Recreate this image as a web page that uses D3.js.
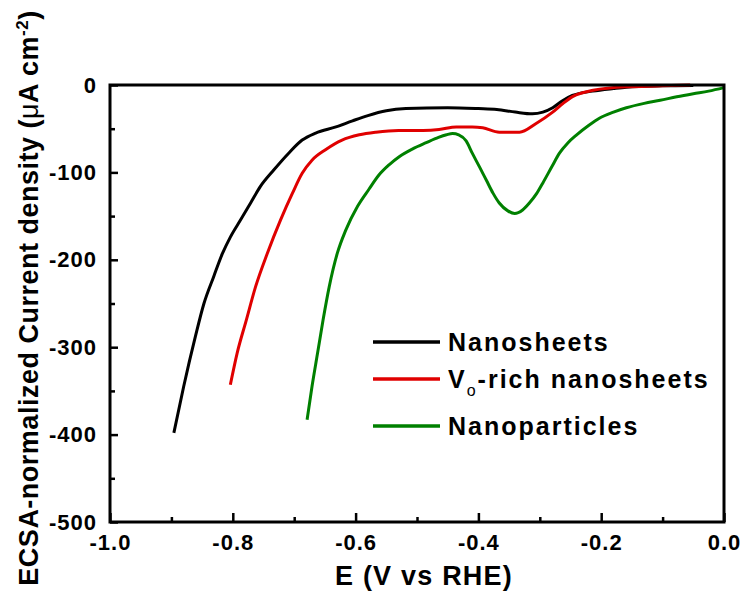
<!DOCTYPE html>
<html>
<head>
<meta charset="utf-8">
<style>
  body { margin: 0; background: #fff; }
  svg text { font-family: "Liberation Sans", Arial, sans-serif; font-weight: bold; fill: #000; }
</style>
</head>
<body>
<div id="chart"></div>
<script src="https://cdn.jsdelivr.net/npm/d3@7"></script>
<script>
'use strict';

// E (V vs RHE), current density (uA cm-2)
var nanosheets = [
  [-0.896,-398],[-0.880,-345],[-0.861,-288],[-0.847,-250],[-0.831,-219],[-0.817,-193],
  [-0.804,-174],[-0.787,-154],[-0.771,-135],[-0.755,-116],[-0.733,-97],[-0.709,-78],
  [-0.687,-63],[-0.665,-55],[-0.632,-48],[-0.605,-41],[-0.580,-35],[-0.550,-29.5],
  [-0.518,-27],[-0.450,-26],[-0.400,-27],[-0.370,-28],[-0.340,-31],[-0.312,-33],
  [-0.295,-31],[-0.279,-26],[-0.263,-18],[-0.247,-12],[-0.214,-7],[-0.180,-4],
  [-0.159,-2.5],[-0.100,-1],[-0.050,-0.5]
];
var voRich = [
  [-0.804,-343],[-0.793,-307],[-0.778,-269],[-0.763,-231],[-0.744,-193],[-0.722,-154],
  [-0.703,-124],[-0.687,-101],[-0.671,-86],[-0.649,-74],[-0.622,-63],[-0.594,-57],
  [-0.567,-54],[-0.530,-52],[-0.490,-52],[-0.464,-51],[-0.436,-48],[-0.410,-48],
  [-0.393,-49],[-0.366,-54],[-0.333,-54],[-0.306,-44],[-0.279,-31],[-0.262,-21],
  [-0.246,-13],[-0.213,-6],[-0.159,-2],[-0.100,-1],[-0.055,0]
];
var nanoparticles = [
  [-0.679,-383],[-0.671,-345],[-0.662,-307],[-0.653,-269],[-0.643,-231],[-0.630,-193],
  [-0.616,-166],[-0.597,-139],[-0.578,-119],[-0.562,-103],[-0.545,-91],[-0.529,-82],
  [-0.507,-73],[-0.485,-66],[-0.465,-60],[-0.452,-57],[-0.442,-55.5],[-0.432,-57],
  [-0.420,-64],[-0.410,-78],[-0.398,-94],[-0.387,-109],[-0.376,-124],[-0.366,-135],
  [-0.352,-144],[-0.341,-147],[-0.328,-143],[-0.317,-135],[-0.305,-124],[-0.295,-112],
  [-0.280,-93],[-0.268,-78],[-0.254,-66],[-0.240,-57],[-0.220,-46],[-0.203,-38],
  [-0.180,-31],[-0.159,-26],[-0.130,-21],[-0.104,-17.5],[-0.077,-13.5],[-0.050,-10],
  [-0.025,-7],[0,-3]
];

var xTicks = [-1.0, -0.8, -0.6, -0.4, -0.2, 0.0];
var xMinor = [-0.9, -0.7, -0.5, -0.3, -0.1];
var yTicks = [0, -100, -200, -300, -400, -500];
var yMinor = [-50, -150, -250, -350, -450];

var series = [
  {name: 'Nanosheets', data: nanosheets, color: '#000000'},
  {name: 'Vo-rich nanosheets', data: voRich, color: '#e00000'},
  {name: 'Nanoparticles', data: nanoparticles, color: '#008000'}
];

var W = 746, H = 597;
var m = {top: 85, right: 22, bottom: 75, left: 110};
var w = W - m.left - m.right, h = H - m.top - m.bottom;

var svg = d3.select('#chart').append('svg')
  .attr('width', W).attr('height', H);

var g = svg.append('g').attr('transform', 'translate(' + m.left + ',' + m.top + ')');

var x = d3.scaleLinear().domain([-1, 0]).range([0, w]);
var y = d3.scaleLinear().domain([-500, 0]).range([h, 0]);

// plain hyphen for negatives, like the original
var hy = f => (d => f(d).replace('\u2212', '-'));

var line = d3.line()
  .x(d => x(d[0]))
  .y(d => y(d[1]))
  .curve(d3.curveMonotoneX);

g.selectAll('path.curve')
  .data(series)
  .enter().append('path')
    .attr('class', 'curve')
    .attr('d', d => line(d.data))
    .attr('fill', 'none')
    .attr('stroke', d => d.color)
    .attr('stroke-width', 3);

// axes, ticks pointing in
var xAxis = g.append('g').attr('transform', 'translate(0,' + h + ')')
  .call(d3.axisBottom(x).tickValues(xTicks).tickSize(-9).tickPadding(12)
    .tickFormat(hy(d3.format('.1f'))));
g.append('g').attr('transform', 'translate(0,' + h + ')')
  .call(d3.axisBottom(x).tickValues(xMinor).tickSize(-5).tickFormat(''));

var yAxis = g.append('g')
  .call(d3.axisLeft(y).tickValues(yTicks).tickSize(-8).tickPadding(13)
    .tickFormat(hy(d3.format('d'))));
g.append('g')
  .call(d3.axisLeft(y).tickValues(yMinor).tickSize(-5).tickFormat(''));

g.selectAll('.domain').remove();
g.selectAll('.tick line').attr('stroke', '#000').attr('stroke-width', 2.5);
g.selectAll('.tick text')
  .style('font-size', '22px')
  .style('letter-spacing', '1px')
  .style('font-family', '"Liberation Sans", Arial, sans-serif')
  .style('font-weight', 'bold')
  .attr('fill', '#000');
xAxis.selectAll('.tick text').attr('dy', '0.72em');

g.append('rect')
  .attr('width', w).attr('height', h)
  .attr('fill', 'none')
  .attr('stroke', '#000')
  .attr('stroke-width', 3);

// axis titles
svg.append('text')
  .attr('x', 424).attr('y', 585)
  .attr('text-anchor', 'middle')
  .style('font-size', '27px')
  .style('letter-spacing', '1.2px')
  .text('E (V vs RHE)');

var yt = svg.append('text')
  .attr('transform', 'translate(38,298) rotate(-90)')
  .attr('text-anchor', 'middle')
  .style('font-size', '27px')
  .style('letter-spacing', '0.5px');
yt.append('tspan').text('ECSA-normalized Current density (');
yt.append('tspan').style('font-weight', 'normal').text('μ');
yt.append('tspan').text('A cm');
yt.append('tspan').attr('dy', -10).style('font-size', '17px').text('-2');
yt.append('tspan').attr('dy', 10).text(')');

// legend
var legY = [342, 379, 426];
var leg = svg.selectAll('g.leg')
  .data(series)
  .enter().append('g')
    .attr('class', 'leg')
    .attr('transform', (d, i) => 'translate(373,' + legY[i] + ')');
leg.append('line')
  .attr('x1', 0).attr('x2', 67)
  .attr('stroke', d => d.color)
  .attr('stroke-width', 3.5);
leg.append('text')
  .attr('x', 75).attr('y', 9)
  .style('font-size', '25px')
  .style('letter-spacing', '2px')
  .each(function(d) {
    var t = d3.select(this);
    if (d.name.indexOf('Vo-') === 0) {
      t.append('tspan').text('V');
      t.append('tspan').attr('dy', 8).style('font-size', '16px').style('font-weight', 'normal').text('o');
      t.append('tspan').attr('dy', -8).text(d.name.slice(2));
    } else {
      t.text(d.name);
    }
  });
</script>
</body>
</html>
